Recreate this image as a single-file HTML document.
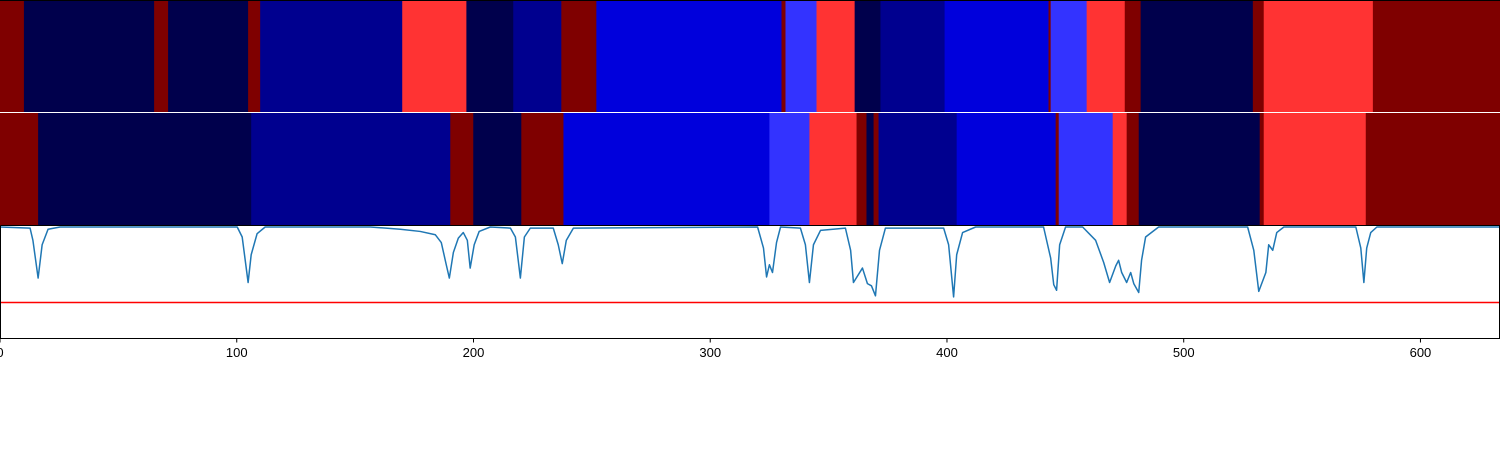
<!DOCTYPE html>
<html><head><meta charset="utf-8"><style>
html,body{margin:0;padding:0;background:#fff;}
svg{display:block;font-family:"Liberation Sans",sans-serif;}
</style></head><body>
<svg id="chart" width="1500" height="450" viewBox="0 0 1500 450" xmlns="http://www.w3.org/2000/svg"></svg>
<script>
// ---- data ----
const palette = ['#00004c','#00008f','#0000dc','#3333ff','#ff3333','#7f0000'];
const row1Starts = [0,10.1,65.1,71,104.8,109.9,169.9,197,216.8,237.1,251.9,330.1,331.8,344.9,361,371.9,399,442.9,443.8,459,475.1,481.8,529.2,533.8,579.9];
const row1Classes = [5,0,5,0,5,1,4,0,1,5,2,5,3,4,0,1,2,5,3,4,5,0,5,4,5];
const row2Starts = [0,16.1,106.1,190.2,199.9,220.2,238,325,341.9,361.8,366,369,371.1,404.1,445.9,447.2,470,475.9,481,532.1,533.8,576.9];
const row2Classes = [5,0,1,5,0,5,2,3,4,5,0,5,1,2,5,3,4,5,0,5,4,5];
const lineX = [0,12.7,13.9,16.1,17.8,20.3,25.4,100.2,102.3,104.8,106.1,108.6,112,156.4,169.1,177.5,183.9,186.4,188.5,189.8,191.5,193.6,195.7,197.4,198.6,200.3,202.4,207.1,215.6,217.7,219.8,221.5,224,233.7,235.8,237.5,239.2,242.2,320,322.5,323.8,325,326.3,328,329.7,338.1,340.2,341.9,343.6,346.6,357.1,359.3,360.5,364.3,366.4,368.1,369.8,371.5,374,398.6,400.7,402.8,404.1,406.6,412.1,440.8,443.8,445.1,446.3,447.6,450.1,457.3,462.8,466.2,468.7,471.3,472.5,473.8,475.9,477.6,478.9,481,482.2,483.9,489.4,527,529.6,531.7,534.7,535.9,537.6,539.3,542.3,572.7,574.8,576.1,577.3,579,581.6,633.5];
const lineY = [1,0.99,0.88,0.54,0.84,0.98,1,1,0.91,0.5,0.75,0.94,1,1,0.98,0.96,0.93,0.86,0.66,0.54,0.77,0.9,0.95,0.88,0.63,0.84,0.96,1,0.99,0.91,0.54,0.91,0.99,0.99,0.84,0.67,0.88,0.99,1,0.81,0.55,0.66,0.59,0.86,1,0.99,0.84,0.5,0.84,0.97,0.99,0.79,0.5,0.63,0.49,0.47,0.38,0.79,0.99,0.99,0.84,0.37,0.75,0.95,1,1,0.72,0.48,0.43,0.84,1,1,0.88,0.68,0.5,0.65,0.7,0.59,0.5,0.59,0.49,0.41,0.7,0.91,1,1,0.79,0.42,0.59,0.84,0.79,0.95,1,1,0.81,0.5,0.81,0.95,1,1];
const threshold = 0.32;
const xTicks = [0,100,200,300,400,500,600];
const xMax = 633.6;

// ---- axes ----
const W = 1500;
const sx = v => v / xMax * W;
const sy = v => 338 - v * 111;
const NS = 'http://www.w3.org/2000/svg';
const svg = document.getElementById('chart');
function mk(tag, attrs){const e=document.createElementNS(NS,tag);for(const k in attrs)e.setAttribute(k,attrs[k]);svg.appendChild(e);return e;}

function drawRow(starts, classes, y0, h, name){
  for(let i=0;i<starts.length;i++){
    const x0=sx(starts[i]), x1=i+1<starts.length?sx(starts[i+1]):W;
    const r=mk('rect',{x:x0,y:y0,width:x1-x0+0.4,height:h,fill:palette[classes[i]]});
    
    
  }
}
drawRow(row1Starts,row1Classes,0,112,'row1');
drawRow(row2Starts,row2Classes,113,112.5,'row2');
const sep=mk('line',{x1:0,y1:112.5,x2:W,y2:112.5,stroke:'#fff','stroke-width':1});


const topb=mk('line',{x1:0,y1:0.5,x2:W,y2:0.5,stroke:'#000','stroke-width':1});



// line panel
let d='';
for(let i=0;i<lineX.length;i++) d+=(i?'L':'M')+sx(lineX[i]).toFixed(2)+','+sy(lineY[i]).toFixed(2);
const th=mk('line',{x1:0,y1:sy(threshold),x2:W,y2:sy(threshold),stroke:'#ff0000','stroke-width':1.5});


const ln=mk('path',{d:d,fill:'none',stroke:'#1f77b4','stroke-width':1.5,'stroke-linejoin':'round'});


const frame=mk('path',{d:'M0.5,225.5L0.5,338.5L1499.5,338.5L1499.5,225.5L0.5,225.5',fill:'none',stroke:'#000','stroke-width':1});



xTicks.forEach(t=>{
  const x=sx(t);
  const tk=mk('line',{x1:x,y1:338,x2:x,y2:342.5,stroke:'#000','stroke-width':1});
  
  
  const tx=mk('text',{x:x,y:357,'font-size':13,'text-anchor':'middle',fill:'#000'});
  tx.textContent=t;
  
  
});
</script>
</body></html>
